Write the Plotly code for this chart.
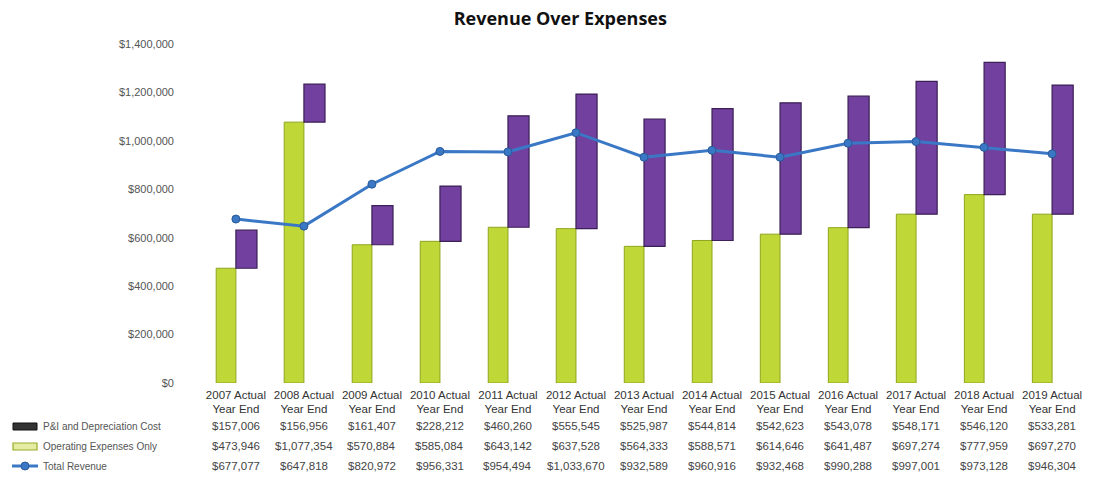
import plotly.graph_objects as go

years = ["2007", "2008", "2009", "2010", "2011", "2012", "2013",
         "2014", "2015", "2016", "2017", "2018", "2019"]
categories = [y + " Actual<br>Year End" for y in years]

pi_depreciation = [157006, 156956, 161407, 228212, 460260, 555545, 525987,
                   544814, 542623, 543078, 548171, 546120, 533281]
operating_expenses = [473946, 1077354, 570884, 585084, 643142, 637528, 564333,
                      588571, 614646, 641487, 697274, 777959, 697270]
total_revenue = [677077, 647818, 820972, 956331, 954494, 1033670, 932589,
                 960916, 932468, 990288, 997001, 973128, 946304]

series_names = ["P&I and Depreciation Cost", "Operating Expenses Only", "Total Revenue"]
y_ticks = [0, 200000, 400000, 600000, 800000, 1000000, 1200000, 1400000]

GREEN = "#c0d837"
PURPLE = "#72409f"
BLUE = "#3a78c6"
TEXT = "#555555"
FONT = "Liberation Sans"

W, H = 1103, 480
ML, MR, MT, MB = 185, 0, 44, 97


def px_x(p):
    # pixel -> paper x
    return (p - ML) / (W - ML - MR)


def px_y(p):
    # pixel (from top) -> paper y
    return (H - MB - p) / (H - MT - MB)


fig = go.Figure()

# green on the left half of the slot, purple floats on top of it on the right half
fig.add_trace(go.Bar(
    x=categories, y=operating_expenses,
    name=series_names[1],
    marker=dict(color=GREEN, line=dict(color="#8fa51f", width=1)),
    offset=-0.29, width=0.29,
))
fig.add_trace(go.Bar(
    x=categories, y=pi_depreciation, base=operating_expenses,
    name=series_names[0],
    marker=dict(color=PURPLE, line=dict(color="#3b1f55", width=1.2)),
    offset=0.0, width=0.31,
))
fig.add_trace(go.Scatter(
    x=categories, y=total_revenue, mode="lines+markers",
    name=series_names[2],
    line=dict(color=BLUE, width=3),
    marker=dict(color=BLUE, size=8, line=dict(color="#2a5a99", width=1)),
))

# data table rows under the axis
row_px = [426, 446, 466]
rows = [pi_depreciation, operating_expenses, total_revenue]
for values, rp in zip(rows, row_px):
    for cat, v in zip(categories, values):
        fig.add_annotation(
            x=cat, y=px_y(rp), xref="x", yref="paper",
            text="${:,}".format(v), showarrow=False,
            font=dict(family=FONT, size=11.5, color="#444444"),
            yanchor="middle",
        )

# legend keys drawn inside the table
fig.add_shape(type="rect", xref="paper", yref="paper",
              x0=px_x(13), x1=px_x(37), y0=px_y(430), y1=px_y(423),
              fillcolor="#333333", line=dict(color="#111111", width=1))
fig.add_shape(type="rect", xref="paper", yref="paper",
              x0=px_x(13), x1=px_x(37), y0=px_y(450), y1=px_y(443),
              fillcolor="#e3eca0", line=dict(color="#9aab2a", width=1.2))
fig.add_shape(type="line", xref="paper", yref="paper",
              x0=px_x(12), x1=px_x(38), y0=px_y(466), y1=px_y(466),
              line=dict(color=BLUE, width=3))
fig.add_shape(type="circle", xref="paper", yref="paper",
              x0=px_x(21), x1=px_x(29), y0=px_y(470), y1=px_y(462),
              fillcolor=BLUE, line=dict(color="#2a5a99", width=1))
for name, rp in zip(series_names, row_px):
    fig.add_annotation(
        x=px_x(41), y=px_y(rp), xref="paper", yref="paper",
        text=name, showarrow=False, xanchor="left", yanchor="middle",
        font=dict(family=FONT, size=10, color=TEXT),
    )

fig.update_layout(
    title=dict(text="<b>Revenue Over Expenses</b>", x=0.508, y=0.962,
               xanchor="center", yanchor="middle",
               font=dict(family="Open Sans", size=18, color="#111111")),
    barmode="overlay",
    plot_bgcolor="white",
    paper_bgcolor="white",
    width=W, height=H,
    margin=dict(l=ML, r=MR, t=MT, b=MB, autoexpand=False),
    font=dict(family=FONT, size=10, color=TEXT),
    showlegend=False,
    xaxis=dict(showgrid=False, showline=False, ticks="", ticklabelstandoff=3,
               tickfont=dict(family=FONT, size=11.5, color="#333333")),
    yaxis=dict(range=[0, 1400000], tickvals=y_ticks,
               tickformat="$,.0f", showgrid=False, showline=False,
               zeroline=False, ticks="", ticklabelstandoff=10,
               tickfont=dict(family=FONT, size=11, color=TEXT)),
)

fig.write_html("out.html", config={"displayModeBar": False},
               post_script="document.body.style.margin='0';")
